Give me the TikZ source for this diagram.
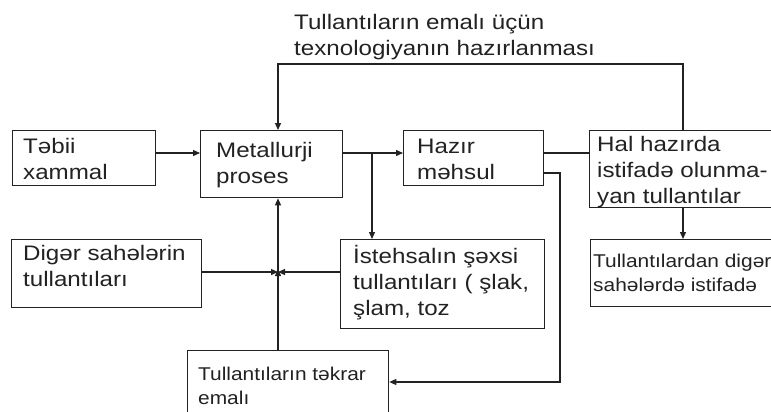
\documentclass[tikz,border=0pt]{standalone}
\usepackage{fontspec}
\setmainfont{Liberation Sans}[FakeStretch=1.15]
\newfontfamily\smallfam{Liberation Sans}[FakeStretch=1.13]
\usetikzlibrary{arrows.meta}
\definecolor{ink}{HTML}{222222}
\tikzset{
  box/.style={draw=ink, line width=1.3pt, minimum width=#1, anchor=north west, inner sep=0pt},
  txt/.style={anchor=base west, inner sep=0pt, text=ink, font=\fontsize{21}{26}\selectfont},
  stxt/.style={anchor=base west, inner sep=0pt, text=ink, font=\smallfam\fontsize{18.5}{24}\selectfont},
  conn/.style={draw=ink, line width=1.3pt},
  arr/.style={conn, -{Triangle[length=7pt,width=6pt]}}
}
\newcommand{\lines}[1]{\begin{tabular}[t]{@{}l@{}}#1\end{tabular}}
\begin{document}
\begin{tikzpicture}[x=1pt,y=-1pt]
\clip (0,0) rectangle (771,412);
\fill[white] (0,0) rectangle (771,412);
% boxes
\node[box=143pt, minimum height=55pt] (b1) at (12,130) {};
\node[box=142pt, minimum height=67pt] (b2) at (200,130) {};
\node[box=140pt, minimum height=55pt] (b3) at (403,130) {};
\node[box=200pt, minimum height=77pt] (b4) at (589,130) {};
\node[box=200pt, minimum height=67pt] (b5) at (590,239) {};
\node[box=190pt, minimum height=68pt] (b6) at (11,239) {};
\node[box=204pt, minimum height=89pt] (b7) at (340,239) {};
\node[box=201pt, minimum height=80pt] (b8) at (187,350) {};
% texts
\node[txt] (tt) at (294,30) {\lines{Tullantıların emalı üçün\\texnologiyanın hazırlanması}};
\node[txt] (t1) at (23,153) {\lines{Təbii\\xammal}};
\node[txt] (t2) at (216,157) {\lines{Metallurji\\proses}};
\node[txt] (t3) at (417,153) {\lines{Hazır\\məhsul}};
\node[txt] (t4) at (597,151) {\lines{Hal hazırda\\istifadə olunma-\\yan tullantılar}};
\node[stxt] (t5) at (593,267) {\lines{Tullantılardan digər\\sahələrdə istifadə}};
\node[txt] (t6) at (23,260) {\lines{Digər sahələrin\\tullantıları}};
\node[txt] (t7) at (353,263) {\lines{İstehsalın şəxsi\\tullantıları ( şlak,\\şlam, toz}};
\node[stxt] (t8) at (198,380) {\lines{Tullantıların təkrar\\emalı}};
% helper coordinates
\coordinate (j) at (278,272);
\coordinate (br) at (372,153);
\coordinate (loopR) at (683,64);
\coordinate (loopL) at (278,64);
\coordinate (h1) at (560,173);
\coordinate (h2) at (560,382);
% connectors
\draw[arr] (b1.east |- 0,153) -- (b2.west |- 0,153);
\draw[arr] (b2.east |- 0,153) -- (b3.west |- 0,153);
\draw[arr] (br) -- (br |- b7.north);
\draw[conn] (b3.east |- 0,153) -- (b4.west |- 0,153);
\draw[arr] (b3.east |- h1) -- (h1) -- (h2) -- (b8.east |- h2);
\draw[arr] (loopR |- b4.north) -- (loopR) -- (loopL) -- (loopL |- b2.north);
\draw[arr] (loopR |- b4.south) -- (loopR |- b5.north);
\draw[arr] (b6.east |- j) -- (j);
\draw[arr] (b7.west |- j) -- (j);
\draw[arr] (j |- b8.north) -- ([yshift=3pt]j);
\draw[arr] (j) -- (j |- b2.south);
\end{tikzpicture}
\end{document}
